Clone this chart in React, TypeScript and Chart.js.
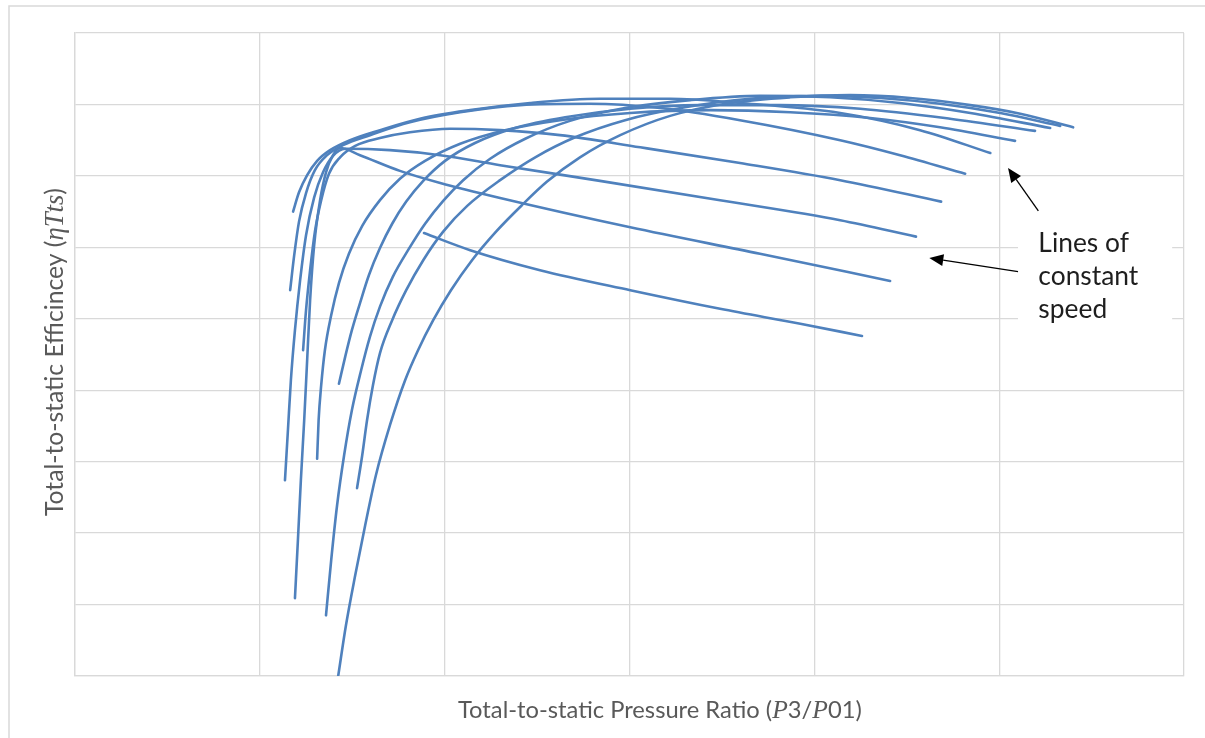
import React, { useEffect, useRef } from "react";
import { Chart, registerables } from "chart.js";

Chart.register(...registerables);

type Pt = [number, number];

// Axis bounds (no tick labels shown in the original)
const xMin = 1.0, xMax = 4.0, xStep = 0.5;
const yMin = 0.0, yMax = 0.9, yStep = 0.1;

// Lines of constant speed: [pressure ratio, efficiency]
const speed1: Pt[] = [[1.712,0],[1.733,0.071],[1.758,0.141],[1.785,0.211],[1.814,0.281],[1.852,0.351],[1.893,0.414],[1.928,0.456],[1.969,0.498],[2.017,0.540],[2.074,0.582],[2.139,0.622],[2.209,0.659],[2.277,0.692],[2.366,0.726],[2.475,0.757],[2.610,0.784],[2.772,0.802],[2.935,0.810],[3.097,0.813],[3.259,0.809],[3.422,0.799],[3.557,0.787],[3.700,0.768]];
const speed2: Pt[] = [[1.763,0.263],[1.777,0.309],[1.790,0.358],[1.806,0.407],[1.825,0.452],[1.858,0.498],[1.896,0.540],[1.942,0.582],[1.996,0.622],[2.061,0.658],[2.150,0.694],[2.245,0.726],[2.353,0.754],[2.488,0.778],[2.650,0.796],[2.826,0.808],[3.016,0.812],[3.178,0.809],[3.340,0.801],[3.503,0.788],[3.665,0.770]];
const speed3: Pt[] = [[1.679,0.085],[1.693,0.162],[1.709,0.239],[1.728,0.309],[1.749,0.372],[1.774,0.428],[1.798,0.475],[1.825,0.517],[1.860,0.559],[1.901,0.596],[1.947,0.633],[1.996,0.665],[2.050,0.694],[2.123,0.724],[2.218,0.752],[2.339,0.777],[2.488,0.795],[2.664,0.806],[2.853,0.812],[3.043,0.810],[3.232,0.802],[3.422,0.788],[3.638,0.767]];
const speed4: Pt[] = [[1.714,0.409],[1.731,0.447],[1.749,0.484],[1.771,0.522],[1.795,0.561],[1.825,0.599],[1.858,0.633],[1.896,0.664],[1.942,0.693],[2.001,0.721],[2.082,0.746],[2.190,0.767],[2.326,0.782],[2.502,0.794],[2.691,0.799],[2.907,0.799],[3.124,0.794],[3.367,0.780],[3.597,0.763]];
const speed5: Pt[] = [[1.655,0.304],[1.659,0.358],[1.666,0.407],[1.676,0.456],[1.693,0.505],[1.714,0.550],[1.741,0.591],[1.777,0.630],[1.825,0.666],[1.879,0.696],[1.947,0.721],[2.042,0.745],[2.163,0.764],[2.312,0.778],[2.502,0.788],[2.718,0.792],[2.935,0.789],[3.151,0.781],[3.340,0.768],[3.543,0.749]];
const speed6: Pt[] = [[1.590,0.650],[1.606,0.677],[1.628,0.701],[1.655,0.721],[1.690,0.736],[1.744,0.750],[1.825,0.764],[1.933,0.780],[2.069,0.792],[2.231,0.802],[2.420,0.808],[2.610,0.808],[2.799,0.802],[3.070,0.788],[3.286,0.764],[3.476,0.732]];
const speed7: Pt[] = [[1.582,0.540],[1.593,0.589],[1.606,0.636],[1.625,0.676],[1.649,0.708],[1.682,0.729],[1.725,0.743],[1.798,0.757],[1.906,0.775],[2.042,0.789],[2.204,0.799],[2.393,0.801],[2.583,0.795],[2.799,0.778],[3.070,0.750],[3.232,0.729],[3.408,0.703]];
const speed8: Pt[] = [[1.617,0.456],[1.625,0.512],[1.636,0.568],[1.649,0.622],[1.666,0.666],[1.687,0.703],[1.717,0.726],[1.758,0.742],[1.825,0.753],[1.906,0.761],[2.015,0.766],[2.150,0.764],[2.312,0.757],[2.529,0.740],[2.799,0.718],[3.070,0.694],[3.343,0.664]];
const speed9: Pt[] = [[1.568,0.274],[1.576,0.344],[1.584,0.414],[1.595,0.484],[1.609,0.554],[1.625,0.617],[1.647,0.670],[1.671,0.705],[1.698,0.728],[1.731,0.738],[1.852,0.736],[1.988,0.729],[2.150,0.715],[2.420,0.693],[2.745,0.666],[3.070,0.638],[3.275,0.615]];
const speed10: Pt[] = [[1.595,0.109],[1.603,0.190],[1.611,0.274],[1.620,0.358],[1.628,0.442],[1.636,0.526],[1.647,0.603],[1.663,0.666],[1.679,0.705],[1.698,0.729],[1.717,0.739],[1.771,0.729],[1.879,0.707],[1.988,0.690],[2.150,0.669],[2.502,0.628],[2.853,0.591],[3.205,0.553]];
const speed11: Pt[] = [[1.944,0.620],[2.069,0.596],[2.258,0.568],[2.502,0.540],[2.745,0.514],[2.962,0.493],[3.129,0.476]];

const speedLines = [speed1, speed2, speed3, speed4, speed5, speed6, speed7, speed8, speed9, speed10, speed11];

const xTitle = [
  { t: "Total-to-static Pressure Ratio (" },
  { t: "P", it: true },
  { t: "3/" },
  { t: "P", it: true },
  { t: "01)" },
];
const yTitle = [
  { t: "Total-to-static Efficincey (" },
  { t: "\u03B7Tts", it: true },
  { t: ")" },
];
const noteLines = ["Lines of", "constant", "speed"];

// annotation anchors in data units
const noteBox = { x0: 3.551, x1: 3.968, y0: 0.631, y1: 0.482 };
const noteX = 3.606;
const noteBaselines = [0.594, 0.547, 0.501];
const arrow1 = { from: [3.606, 0.651], to: [3.524, 0.711] };
const arrow2 = { from: [3.551, 0.566], to: [3.311, 0.585] };

type Seg = { t: string; it?: boolean };
const SANS = "Lato";
function segFont(s: Seg, size: number) {
  return s.it ? `italic ${size * 1.08}px "Liberation Serif"` : `${size}px ${SANS}`;
}
function richWidth(ctx: CanvasRenderingContext2D, segs: Seg[], size: number) {
  let w = 0;
  for (const s of segs) { ctx.font = segFont(s, size); w += ctx.measureText(s.t).width; }
  return w;
}
function drawRich(ctx: CanvasRenderingContext2D, segs: Seg[], size: number, x: number, y: number) {
  let cx = x;
  for (const s of segs) {
    ctx.font = segFont(s, size);
    ctx.fillText(s.t, cx, y);
    cx += ctx.measureText(s.t).width;
  }
}
function drawArrow(ctx: CanvasRenderingContext2D, x1: number, y1: number, x2: number, y2: number) {
  const ang = Math.atan2(y2 - y1, x2 - x1);
  const hl = 14, hw = 6;
  const bx = x2 - hl * Math.cos(ang), by = y2 - hl * Math.sin(ang);
  ctx.beginPath(); ctx.moveTo(x1, y1); ctx.lineTo(bx, by); ctx.stroke();
  ctx.beginPath();
  ctx.moveTo(x2, y2);
  ctx.lineTo(bx + hw * Math.sin(ang), by - hw * Math.cos(ang));
  ctx.lineTo(bx - hw * Math.sin(ang), by + hw * Math.cos(ang));
  ctx.closePath(); ctx.fill();
}

const decor = {
  id: "decor",
  beforeDraw(chart: any) {
    const { ctx, width, height } = chart;
    ctx.save();
    ctx.fillStyle = "#ffffff";
    ctx.fillRect(0, 0, width, height);
    ctx.strokeStyle = "#d9d9d9";
    ctx.lineWidth = 1.5;
    ctx.beginPath();
    ctx.moveTo(9, height + 5); ctx.lineTo(9, 6); ctx.lineTo(width + 5, 6);
    ctx.stroke();
    ctx.restore();
  },
  afterDraw(chart: any) {
    const { ctx } = chart;
    const xs = chart.scales.x, ys = chart.scales.y;
    const X = (v: number) => xs.getPixelForValue(v);
    const Y = (v: number) => ys.getPixelForValue(v);
    ctx.save();
    ctx.fillStyle = "#ffffff";
    ctx.fillRect(X(noteBox.x0), Y(noteBox.y0), X(noteBox.x1) - X(noteBox.x0), Y(noteBox.y1) - Y(noteBox.y0));
    ctx.fillStyle = "#1e1e1e";
    ctx.textBaseline = "alphabetic";
    ctx.font = `24px ${SANS}`;
    const fs = 24 * 100 / ctx.measureText("constant").width;
    ctx.font = `${fs}px ${SANS}`;
    noteLines.forEach((t, i) => ctx.fillText(t, X(noteX), Y(noteBaselines[i])));
    ctx.strokeStyle = "#000000"; ctx.fillStyle = "#000000"; ctx.lineWidth = 1.3;
    drawArrow(ctx, X(arrow1.from[0]), Y(arrow1.from[1]), X(arrow1.to[0]), Y(arrow1.to[1]));
    drawArrow(ctx, X(arrow2.from[0]), Y(arrow2.from[1]), X(arrow2.to[0]), Y(arrow2.to[1]));
    ctx.fillStyle = "#595959";
    const xs1 = 20 * 404 / richWidth(ctx, xTitle, 20);
    drawRich(ctx, xTitle, xs1, 458, 718);
    const ys1 = 20 * 328 / richWidth(ctx, yTitle, 20);
    ctx.translate(63, 516);
    ctx.rotate(-Math.PI / 2);
    drawRich(ctx, yTitle, ys1, 0, 0);
    ctx.restore();
  },
};

export default function App() {
  const ref = useRef<HTMLCanvasElement>(null);
  useEffect(() => {
    document.body.style.margin = "0";
    const grid = { color: "#d9d9d9", lineWidth: 1.3, drawTicks: false };
    const chart = new Chart(ref.current!, {
      type: "scatter",
      data: {
        datasets: speedLines.map((pts, i) => ({
          label: `Speed ${i + 1}`,
          data: pts.map(([x, y]) => ({ x, y })),
          showLine: true,
          borderColor: "#4f81bd",
          backgroundColor: "#4f81bd",
          borderWidth: 2.6,
          pointRadius: 0,
          cubicInterpolationMode: "monotone" as const,
          borderCapStyle: "round" as const,
          borderJoinStyle: "round" as const,
        })),
      },
      options: {
        animation: false,
        responsive: false,
        devicePixelRatio: 1,
        layout: { padding: { left: 9, right: 21, top: 33, bottom: 0 } },
        plugins: { legend: { display: false }, tooltip: { enabled: false } },
        scales: {
          x: {
            type: "linear", min: xMin, max: xMax,
            ticks: { display: false, stepSize: xStep },
            grid,
            border: { color: "#d9d9d9", width: 1.3 },
            afterFit: (s: any) => { s.height = 62; },
          },
          y: {
            type: "linear", min: yMin, max: yMax,
            ticks: { display: false, stepSize: yStep },
            grid,
            border: { color: "#d9d9d9", width: 1.3 },
            afterFit: (s: any) => { s.width = 66; },
          },
        },
      },
      plugins: [decor],
    });
    return () => chart.destroy();
  }, []);
  return (
    <div style={{ position: "absolute", left: 0, top: 0, width: 1205, height: 738 }}>
      <canvas ref={ref} width={1205} height={738} />
    </div>
  );
}
